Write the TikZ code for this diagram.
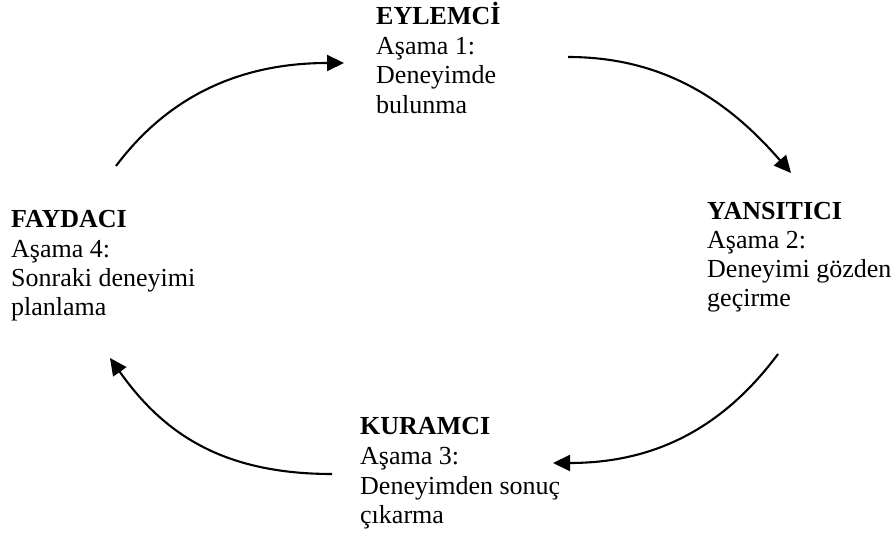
\documentclass[tikz,border=0pt]{standalone}
\usepackage{fontspec}
\setmainfont{Liberation Serif}
\usetikzlibrary{arrows.meta}
\begin{document}
\begin{tikzpicture}[x=1pt,y=1pt,
  line/.style={anchor=base west, inner sep=0pt, font=\fontsize{26}{29.5}\selectfont},
  head/.style={line, font=\fontsize{26}{29.5}\selectfont\bfseries},
  cyc/.style={line width=2.1pt, -{Triangle[length=17pt,width=16pt]}}]
\useasboundingbox (0,0) rectangle (896,538);

% Stage 1
\node[head] (e0) at (376,513) {EYLEMCİ};
\node[line] (e1) at (376,483.5) {Aşama 1:};
\node[line] (e2) at (376,454) {Deneyimde};
\node[line] (e3) at (376,424.5) {bulunma};

% Stage 2
\node[head] (y0) at (707,318) {YANSITICI};
\node[line] (y1) at (707,289) {Aşama 2:};
\node[line] (y2) at (707,260.5) {Deneyimi gözden};
\node[line] (y3) at (707,231.5) {geçirme};

% Stage 3
\node[head] (k0) at (360,103) {KURAMCI};
\node[line] (k1) at (360,73.5) {Aşama 3:};
\node[line] (k2) at (360,44) {Deneyimden sonuç};
\node[line] (k3) at (360,15) {çıkarma};

% Stage 4
\node[head] (f0) at (11,310) {FAYDACI};
\node[line] (f1) at (11,280.5) {Aşama 4:};
\node[line] (f2) at (11,251) {Sonraki deneyimi};
\node[line] (f3) at (11,222) {planlama};

% Arc end points
\coordinate (a1s) at (116,372);
\coordinate (a1e) at (344,475);
\coordinate (a2s) at (568,481);
\coordinate (a2e) at (791,365);
\coordinate (a3s) at (778,184);
\coordinate (a3e) at (553,75);
\coordinate (a4s) at (332,64);
\coordinate (a4e) at (110,180);

% Cycle arrows
\draw[cyc] (a1s) .. controls (170,444) and (243,475) .. (a1e);
\draw[cyc] (a2s) .. controls (668,481) and (732,433) .. (a2e);
\draw[cyc] (a3s) .. controls (720,106) and (650,75) .. (a3e);
\draw[cyc] (a4s) .. controls (222,64) and (163,105) .. (a4e);
\end{tikzpicture}
\end{document}
